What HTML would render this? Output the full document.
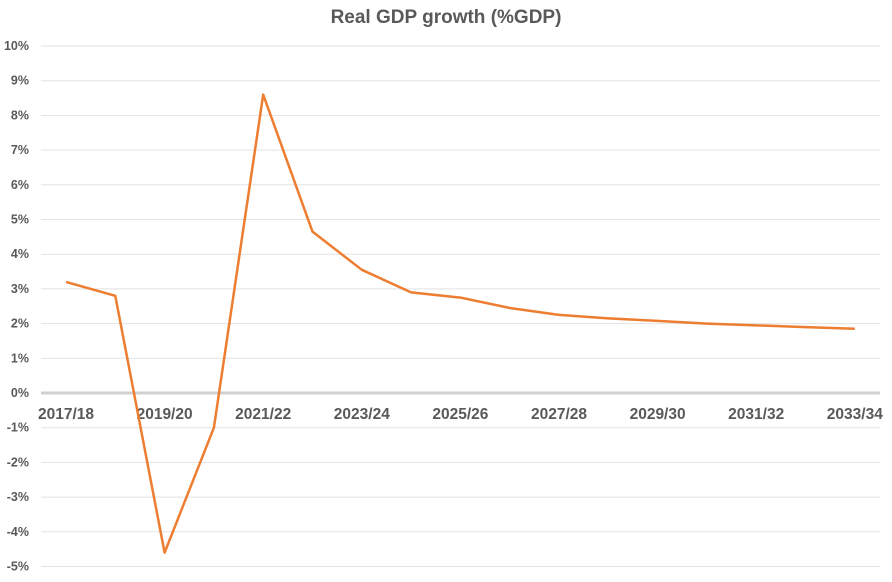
<!DOCTYPE html>
<html><head><meta charset="utf-8"><style>
body{margin:0;background:#fff;width:892px;height:577px;overflow:hidden;font-family:"Liberation Sans",sans-serif;}
</style></head><body>
<svg width="892" height="577">
<text x="446" y="23" text-anchor="middle" font-size="19" font-weight="bold" fill="#595959">Real GDP growth (%GDP)</text>
<g id="grid"></g><g id="ylab"></g><g id="xlab"></g><g id="series"></g>
</svg>
<script>
const categories=["2017/18","2018/19","2019/20","2020/21","2021/22","2022/23","2023/24","2024/25","2025/26","2026/27","2027/28","2028/29","2029/30","2030/31","2031/32","2032/33","2033/34"];
const growth=[3.2,2.8,-4.6,-1.0,8.6,4.65,3.55,2.9,2.75,2.45,2.25,2.15,2.08,2.0,1.95,1.9,1.85];
const yTicks=[-5,-4,-3,-2,-1,0,1,2,3,4,5,6,7,8,9,10];
const NS="http://www.w3.org/2000/svg";
const y=v=>393-v*34.7;
const x=i=>66+i*49.3;
function mk(t,a,p){const e=document.createElementNS(NS,t);for(const k in a)e.setAttribute(k,a[k]);document.getElementById(p).appendChild(e);return e;}
yTicks.forEach(v=>{
 const l=mk('line',{x1:41,x2:880,y1:y(v),y2:y(v),stroke:v===0?'#d0d0d0':'#e2e2e2','stroke-width':v===0?3:1},'grid');
 
 
 const t=mk('text',{x:29,y:y(v)+4,'text-anchor':'end','font-size':12.5,'font-weight':'bold',fill:'#595959'},'ylab');
 t.textContent=v+'%';
 
 
});
categories.forEach((c,i)=>{if(i%2)return;
 const t=mk('text',{x:x(i),y:419,'text-anchor':'middle','font-size':15.5,'font-weight':'bold',fill:'#595959'},'xlab');
 t.textContent=c;
 
 
});
const p=mk('polyline',{points:growth.map((v,i)=>x(i)+','+y(v)).join(' '),fill:'none',stroke:'#ed7d31','stroke-width':2.5,'stroke-linejoin':'round'},'series');


</script>
</body></html>
